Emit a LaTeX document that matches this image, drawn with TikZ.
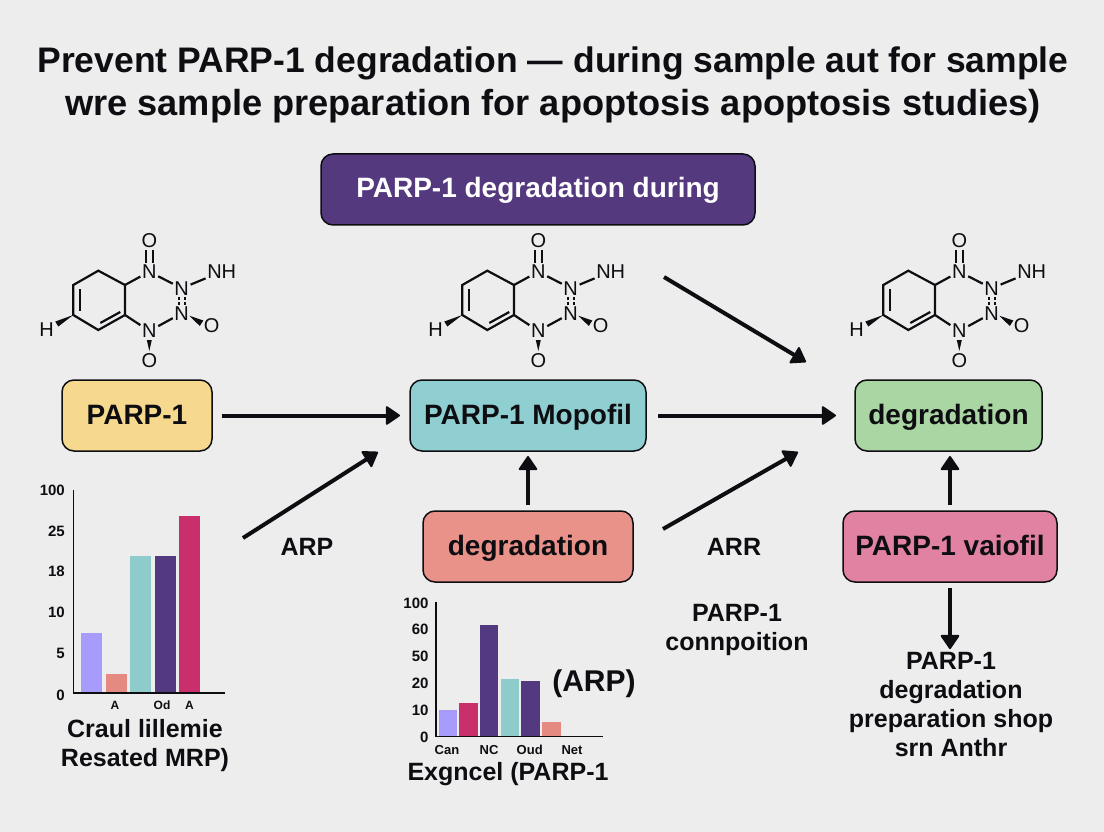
\documentclass[tikz,border=0pt]{standalone}
\usepackage{xcolor}
\usepackage{fontspec}
\setmainfont{Liberation Sans}
\usetikzlibrary{positioning, arrows.meta}
\definecolor{BgGrey}{HTML}{EDEDED}
\definecolor{InkBlack}{HTML}{0E0E12}
\definecolor{BoxPurple}{HTML}{54397F}
\definecolor{BoxYellow}{HTML}{F6D98E}
\definecolor{BoxTeal}{HTML}{8FCFD1}
\definecolor{BoxGreen}{HTML}{A9D6A2}
\definecolor{BoxSalmon}{HTML}{E8928A}
\definecolor{BoxPink}{HTML}{E282A3}
\definecolor{BarLavender}{HTML}{A79BFB}
\definecolor{BarSalmon}{HTML}{E58A80}
\definecolor{BarTeal}{HTML}{8ECBCB}
\definecolor{BarPurple}{HTML}{53397F}
\definecolor{BarCrimson}{HTML}{C9306B}

\begin{document}
\begin{tikzpicture}[
            x=1pt, y=-1pt,
            box/.style={draw=InkBlack, line width=1.5pt, rounded corners=12pt, outer sep=0pt, text=InkBlack, minimum height=71pt, text height=17pt, text depth=0pt, align=center, font=\fontsize{28}{30}\selectfont\bfseries},
            arrow/.style={-{Triangle[round, line width=2pt, length=15pt, width=20pt]}, line width=4pt, InkBlack},
            lbl/.style={text=InkBlack, align=center, inner sep=0pt, font=\fontsize{25}{29}\selectfont\bfseries},
            tick/.style={text=InkBlack, inner sep=0pt, font=\fontsize{15}{15}\selectfont\bfseries},
            axis/.style={draw=InkBlack, line width=1.5pt},
            atom/.style={text=InkBlack, inner sep=1.5pt, font=\fontsize{20}{20}\selectfont},
            bond/.style={draw=InkBlack, line width=2.2pt},
            mol/.pic={
                \node[atom] (otop) at (0,0) {O};
                \node[atom] (na) at (0,30.7) {N};
                \node[atom] (nb) at (32.4,47.3) {N};
                \node[atom] (nh) at (72.4,30.7) {NH};
                \node[atom] (nc) at (32.4,72.3) {N};
                \node[atom] (oright) at (62.4,85) {O};
                \node[atom] (nd) at (0,90) {N};
                \node[atom] (obot) at (0,120) {O};
                \node[atom] (hleft) at (-102.6,89) {H};
                \coordinate (ca) at (-24.3,44);
                \coordinate (cb) at (-51,29.7);
                \coordinate (cc) at (-76,44);
                \coordinate (cd) at (-76,74);
                \coordinate (ce) at (-51,89);
                \coordinate (cf) at (-24.3,74);
                \draw[bond] (na) -- (ca) -- (cb) -- (cc) -- (cd) -- (ce) -- (cf) -- (ca);
                \draw[bond] (cf) -- (nd);
                \draw[bond] (na) -- (nb);
                \draw[bond] (nb) -- (nh);
                \draw[bond] (nc) -- (nd);
                \draw[bond] ([xshift=-3.5pt]otop.south) -- ([xshift=-3.5pt]na.north);
                \draw[bond] ([xshift=3.5pt]otop.south) -- ([xshift=3.5pt]na.north);
                \draw[bond, dash pattern=on 3pt off 2pt] ([xshift=-3pt]nb.south) -- ([xshift=-3pt]nc.north);
                \draw[bond, dash pattern=on 3pt off 2pt] ([xshift=3pt]nb.south) -- ([xshift=3pt]nc.north);
                \draw[bond] (-69.5,48) -- (-69.5,70);
                \draw[bond] (-49,82) -- (-29,71);
                \fill[InkBlack] (40,74.7) -- (50.5,85) -- (54,79.5) -- cycle;
                \fill[InkBlack] (-2.5,99) -- (2.5,99) -- (0,110) -- cycle;
                \fill[InkBlack] (-76,74) -- (-94,80.5) -- (-91,85.5) -- cycle;
            }
        ]

            \fill[BgGrey] (0,0) rectangle (1104,832);
            \useasboundingbox (0,0) rectangle (1104,832);

            \node[text=InkBlack, align=center, font=\fontsize{35.5}{43}\selectfont\bfseries] (heading) at (553,85) {Prevent PARP-1 degradation — during sample aut for sample \\ \fontsize{36.2}{43}\selectfont wre sample preparation for apoptosis apoptosis studies)};

            \node[box, fill=BoxYellow, minimum width=150pt] (parp) at (137,415.5) {PARP-1};
            \node[box, fill=BoxTeal, minimum width=236pt, right=198pt of parp] (mopofil) {PARP-1 Mopofil};
            \node[box, fill=BoxGreen, minimum width=187pt, right=209pt of mopofil] (degrgreen) {degradation};
            \node[box, fill=BoxPurple, text=white, minimum width=434pt, above=155pt of mopofil, xshift=10pt] (during) {PARP-1 degradation during};
            \node[box, fill=BoxSalmon, minimum width=210pt, below=60pt of mopofil] (degrsalmon) {degradation};
            \node[box, fill=BoxPink, minimum width=214pt, below=60pt of degrgreen, xshift=1.5pt] (vaiofil) {PARP-1 vaiofil};

            \pic (mola) at (149.3,241) {mol};
            \pic (molb) at (538.3,241) {mol};
            \pic (molc) at (959.3,241) {mol};

            \node[lbl] (arpa) at (307,547) {ARP};
            \node[lbl] (arr) at (734,547) {ARR};
            \node[lbl] (connp) at (737,629.5) {PARP-1 \\ connpoition};
            \node[lbl, font=\fontsize{30}{34}\selectfont\bfseries] (arpb) at (594,684) {(ARP)};
            \node[lbl] (shop) at (951,704.5) {PARP-1 \\ degradation \\ preparation shop \\ srn Anthr};

            \coordinate (arpstart) at (243,538);
            \coordinate (arpend) at (378,452);
            \coordinate (arrstart) at (663,529);
            \coordinate (arrend) at (798,452);
            \coordinate (durstart) at (664,277);
            \coordinate (durend) at (806,362);

            \draw[arrow, shorten <=10pt, shorten >=10pt] (parp) -- (mopofil);
            \draw[arrow, shorten <=12pt, shorten >=19pt] (mopofil) -- (degrgreen);
            \draw[arrow] (durstart) -- (durend);
            \draw[arrow] (arpstart) -- (arpend);
            \draw[arrow] (arrstart) -- (arrend);
            \draw[arrow, shorten <=6pt, shorten >=5pt] (degrsalmon) -- (mopofil);
            \draw[arrow, shorten <=6pt, shorten >=5pt] (vaiofil.north) -- (vaiofil.north |- degrgreen.south);
            \draw[arrow, shorten <=6pt, shorten >=3pt] (vaiofil.south) -- (vaiofil.south |- shop.north);

            \draw[axis] (73.3,490) -- (73.3,693) -- (225,693);
            \fill[BarLavender] (81,632.7) rectangle (102,692);
            \fill[BarSalmon] (105.7,674) rectangle (126.7,692);
            \fill[BarTeal] (130,556) rectangle (151,692);
            \fill[BarPurple] (154.7,556) rectangle (176,692);
            \fill[BarCrimson] (179,516.3) rectangle (200,692);
            \node[tick, anchor=east] (ya) at (65,490.7) {100};
            \node[tick, anchor=east] (yb) at (65,531) {25};
            \node[tick, anchor=east] (yc) at (65,571.7) {18};
            \node[tick, anchor=east] (yd) at (65,612.7) {10};
            \node[tick, anchor=east] (ye) at (65,653) {5};
            \node[tick, anchor=east] (yf) at (65,695) {0};
            \node[tick, font=\fontsize{12}{12}\selectfont\bfseries] (xa) at (115,705) {A};
            \node[tick, font=\fontsize{12}{12}\selectfont\bfseries] (xb) at (162,705) {Od};
            \node[tick, font=\fontsize{12}{12}\selectfont\bfseries] (xc) at (189.5,705) {A};
            \node[lbl] (capa) at (145,745.5) {Craul lillemie \\ Resated MRP)};

            \draw[axis] (436,601.7) -- (436,736.7) -- (603.3,736.7);
            \fill[BarLavender] (438.7,710) rectangle (457,736);
            \fill[BarCrimson] (459.3,703.3) rectangle (477.7,736);
            \fill[BarPurple] (480,625.3) rectangle (498.3,736);
            \fill[BarTeal] (500.7,678.7) rectangle (519,736);
            \fill[BarPurple] (521.3,681.3) rectangle (539.7,736);
            \fill[BarSalmon] (542.3,722.3) rectangle (560.7,736);
            \node[tick, anchor=east] (za) at (428.7,603) {100};
            \node[tick, anchor=east] (zb) at (428.7,629.7) {60};
            \node[tick, anchor=east] (zc) at (428.7,656) {50};
            \node[tick, anchor=east] (zd) at (428.7,683) {20};
            \node[tick, anchor=east] (ze) at (428.7,710) {10};
            \node[tick, anchor=east] (zf) at (428.7,737) {0};
            \node[tick, font=\fontsize{13}{13}\selectfont\bfseries] (ua) at (447,750) {Can};
            \node[tick, font=\fontsize{13}{13}\selectfont\bfseries] (ub) at (489,750) {NC};
            \node[tick, font=\fontsize{13}{13}\selectfont\bfseries] (uc) at (529.7,750) {Oud};
            \node[tick, font=\fontsize{13}{13}\selectfont\bfseries] (ud) at (572,750) {Net};
            \node[lbl] (capb) at (508,774) {Exgncel (PARP-1};

        \end{tikzpicture}
\end{document}
